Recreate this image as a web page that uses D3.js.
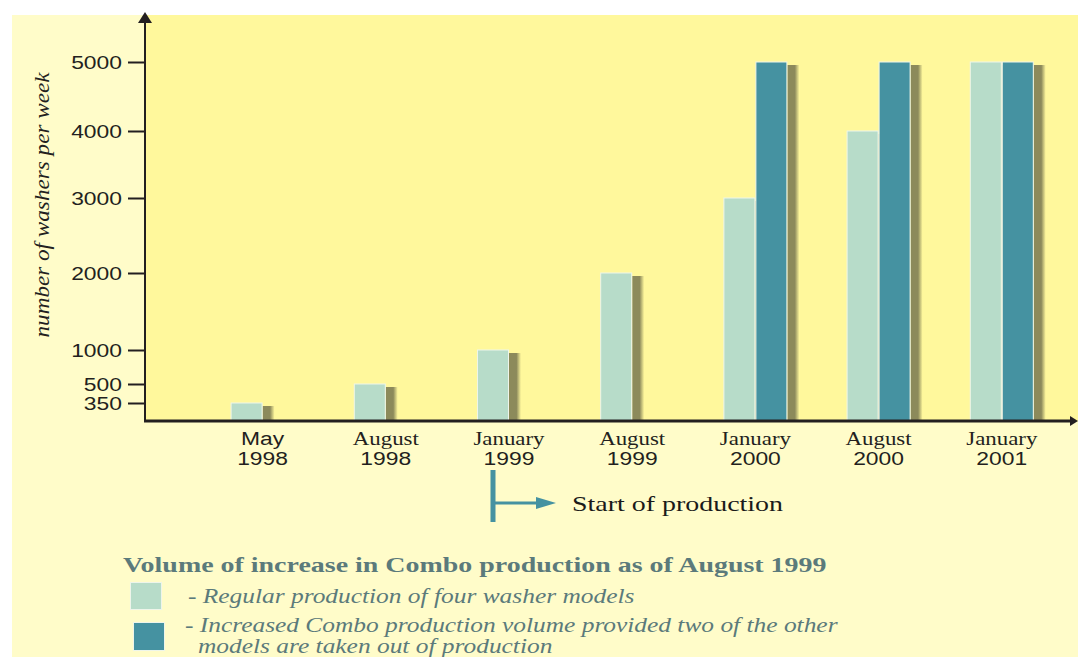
<!DOCTYPE html>
<html>
<head>
<meta charset="utf-8">
<script src="https://cdn.jsdelivr.net/npm/d3@7"></script>
<style>
  html, body { margin: 0; padding: 0; background: #ffffff; }
  svg { display: block; }
</style>
</head>
<body>
<svg id="chart" width="1078" height="657"></svg>
<script>
// Production periods shown along the time axis
const months = ["May", "August", "January", "August", "January", "August", "January"];
const years = ["1998", "1998", "1999", "1999", "2000", "2000", "2001"];
const periods = months.map((m, i) => m + " " + years[i]);

// Washers per week: regular four-model production, and the Combo volume
const regular = [350, 500, 1000, 2000, 3000, 4000, 5000];
const combo = [null, null, null, null, 5000, 5000, 5000];

// Uneven value ticks on the vertical axis
const yTicks = [350, 500, 1000, 2000, 3000, 4000, 5000];

const legendTitle = "Volume of increase in Combo production as of August 1999";
const legendRegular = "- Regular production of four washer models";
const legendCombo = ["- Increased Combo production volume provided two of the other",
                     "models are taken out of production"];

const C = {
  panel: "#fffcc9",
  plot: "#fff89c",
  light: "#b7dcc9",
  dark: "#4592a1",
  shadow: "#8c8a5b",
  axis: "#231f20",
  legend: "#5b7a7b",
  teal: "#4592a1"
};

// All lettering in this chart is set wide
const STRETCH = 1.27;
const SANS = "'Liberation Sans', Arial, sans-serif";
const SERIF = "'Liberation Serif', 'Times New Roman', serif";

const svg = d3.select("#chart");
const W = 1078, H = 657;
const x0 = 145, baseY = 421, topY = 15;

// Background panels
svg.append("rect").attr("x", 12).attr("y", topY).attr("width", W - 12).attr("height", H - topY)
  .attr("fill", C.panel);
svg.append("rect").attr("x", x0).attr("y", topY).attr("width", W - x0).attr("height", baseY - topY)
  .attr("fill", C.plot);

// Scales: categorical periods, with two sub-slots per period
const x = d3.scaleBand().domain(periods).range([201, 1063.4]).padding(0);
const xSub = d3.scaleBand().domain(["regular", "combo"]).range([0, x.bandwidth()])
  .paddingInner(0).paddingOuter(0.925);

// The value axis is stretched unevenly between its labelled values
const y = d3.scaleLinear()
  .domain([0, 350, 500, 1000, 2000, 3000, 4000, 5000])
  .range([baseY, 403, 384, 350, 273, 198, 131, 62]);

// Shadow gradient fading to the right
const defs = svg.append("defs");
const grad = defs.append("linearGradient").attr("id", "shadowGrad")
  .attr("x1", "0%").attr("x2", "100%").attr("y1", "0%").attr("y2", "0%");
grad.append("stop").attr("offset", "0%").attr("stop-color", C.shadow).attr("stop-opacity", 1);
grad.append("stop").attr("offset", "62%").attr("stop-color", C.shadow).attr("stop-opacity", 1);
grad.append("stop").attr("offset", "100%").attr("stop-color", C.shadow).attr("stop-opacity", 0);

const bars = [];
periods.forEach((p, i) => {
  bars.push({ period: p, key: "regular", value: regular[i] });
  if (combo[i] != null) bars.push({ period: p, key: "combo", value: combo[i] });
});

const bw = xSub.bandwidth();
const shadowW = 12;

// Shadows first so neighbouring bars overlap them
svg.append("g").selectAll("rect").data(bars).join("rect")
  .attr("x", d => x(d.period) + xSub(d.key) + bw)
  .attr("y", d => y(d.value) + 3)
  .attr("width", shadowW)
  .attr("height", d => baseY - y(d.value) - 3)
  .attr("fill", "url(#shadowGrad)");

svg.append("g").selectAll("rect").data(bars).join("rect")
  .attr("x", d => x(d.period) + xSub(d.key) + 0.5)
  .attr("y", d => y(d.value))
  .attr("width", bw - 1)
  .attr("height", d => baseY - y(d.value))
  .attr("fill", d => d.key === "regular" ? C.light : C.dark)
  .attr("stroke", "#eef5ea")
  .attr("stroke-width", 1);

// Y axis
const yAxis = d3.axisLeft(y).tickValues(yTicks).tickSize(17).tickPadding(6).tickFormat(d3.format("d"));
const gy = svg.append("g").attr("transform", `translate(${x0},0)`).call(yAxis);
gy.select(".domain").remove();
gy.selectAll(".tick line").attr("stroke", C.axis).attr("stroke-width", 2);
gy.selectAll(".tick text")
  .attr("class", "wide")
  .attr("fill", C.axis)
  .style("font-family", SANS)
  .style("font-size", "18px")
  .attr("dy", "0.36em");
svg.append("line").attr("x1", x0).attr("x2", x0).attr("y1", baseY + 1).attr("y2", 20)
  .attr("stroke", C.axis).attr("stroke-width", 2);
svg.append("path").attr("d", `M${x0},12 L${x0 - 7},23 L${x0 + 7},23 Z`).attr("fill", C.axis);

// X axis
svg.append("line").attr("x1", x0 - 1).attr("x2", 1072).attr("y1", baseY).attr("y2", baseY)
  .attr("stroke", C.axis).attr("stroke-width", 3);
svg.append("path").attr("d", `M1078,${baseY} L1070,${baseY - 5} L1070,${baseY + 5} Z`).attr("fill", C.axis);

// Period labels (month over year)
const labelX = p => x(p) + x.bandwidth() / 2;
const gx = svg.append("g");
gx.selectAll("text.month").data(periods).join("text")
  .attr("class", "month wide")
  .attr("x", labelX)
  .attr("y", 445)
  .attr("text-anchor", "middle")
  .attr("fill", C.axis)
  .style("font-family", (d, i) => months[i] === "May" ? SANS : SERIF)
  .style("font-size", "18px")
  .text((d, i) => months[i]);
gx.selectAll("text.year").data(periods).join("text")
  .attr("class", "year wide")
  .attr("x", labelX)
  .attr("y", 465)
  .attr("text-anchor", "middle")
  .attr("fill", C.axis)
  .style("font-family", SANS)
  .style("font-size", "18px")
  .text((d, i) => years[i]);

// Y axis title (tightly set)
svg.append("text")
  .attr("transform", "translate(49,205) rotate(-90)")
  .attr("text-anchor", "middle")
  .attr("fill", C.axis)
  .attr("textLength", 265)
  .attr("lengthAdjust", "spacingAndGlyphs")
  .style("font-family", SERIF)
  .style("font-style", "italic")
  .style("font-size", "22px")
  .text("number of washers per week");

// Start-of-production marker under January 1999
const startX = x("January 1999") + xSub("regular") + bw / 2;
svg.append("rect").attr("x", startX - 2.5).attr("y", 470).attr("width", 5).attr("height", 52).attr("fill", C.teal);
svg.append("line").attr("x1", startX + 2).attr("x2", startX + 45).attr("y1", 503).attr("y2", 503)
  .attr("stroke", C.teal).attr("stroke-width", 3);
svg.append("path").attr("d", `M${startX + 43},497 L${startX + 63},503 L${startX + 43},509 Z`).attr("fill", C.teal);
svg.append("text").attr("class", "wide").attr("x", 572).attr("y", 511)
  .attr("fill", "#1a1a1a")
  .style("font-family", SERIF)
  .style("font-size", "22px")
  .text("Start of production");

// Legend
svg.append("text").attr("class", "wide").attr("x", 123).attr("y", 572)
  .attr("fill", C.legend)
  .style("font-family", SERIF)
  .style("font-weight", "bold")
  .style("font-size", "22px")
  .text(legendTitle);

svg.append("rect").attr("x", 130.5).attr("y", 582.5).attr("width", 31).attr("height", 27)
  .attr("fill", C.light).attr("stroke", "#eef5ea").attr("stroke-width", 1);
svg.append("rect").attr("x", 133.5).attr("y", 622.5).attr("width", 31).attr("height", 28)
  .attr("fill", C.dark).attr("stroke", "#eef5ea").attr("stroke-width", 1);

const legendStyle = sel => sel
  .attr("class", "wide")
  .attr("fill", C.legend)
  .style("font-family", SERIF)
  .style("font-style", "italic")
  .style("font-size", "20px");

svg.append("text").attr("x", 188).attr("y", 603).call(legendStyle).text(legendRegular);
svg.append("text").attr("x", 185).attr("y", 632).call(legendStyle).text(legendCombo[0]);
svg.append("text").attr("x", 198).attr("y", 653).call(legendStyle).text(legendCombo[1]);

// Widen the lettering horizontally
svg.selectAll("text.wide").each(function () {
  const len = this.getComputedTextLength();
  d3.select(this).attr("textLength", len * STRETCH).attr("lengthAdjust", "spacingAndGlyphs");
});
</script>
</body>
</html>
